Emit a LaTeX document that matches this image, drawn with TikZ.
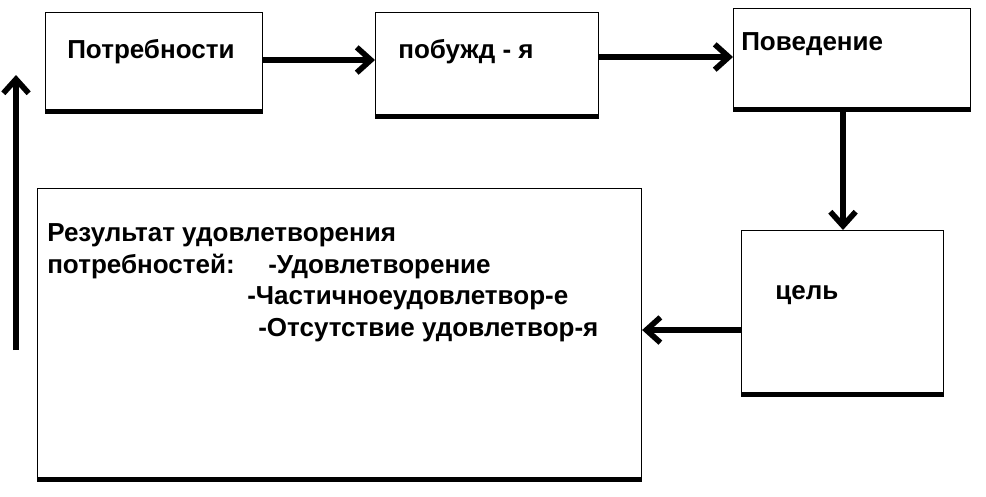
\documentclass[tikz,border=0pt]{standalone}
\usepackage{fontspec}
\setmainfont{Liberation Sans}
\usetikzlibrary{arrows.meta,positioning}
\tikzset{
  blk/.style={draw,line width=0.8pt,anchor=north west,inner sep=0pt},
  lbl/.style={font=\bfseries\fontsize{18.5}{22}\selectfont,anchor=west,inner sep=0pt},
  arr/.style={-{Straight Barb[length=10pt,width=18pt]},line width=4pt}
}
\begin{document}
\begin{tikzpicture}[x=0.025cm,y=-0.025cm]
\useasboundingbox (0,0) rectangle (986,496);
% boxes
\node[blk,minimum width=217*0.025cm,minimum height=98*0.025cm] (need) at (45,12) {};
\node[blk,minimum width=223*0.025cm,minimum height=103*0.025cm] (mot) at (375,12) {};
\node[blk,minimum width=237*0.025cm,minimum height=100*0.025cm] (beh) at (733,8) {};
\node[blk,minimum width=202*0.025cm,minimum height=163*0.025cm] (goal) at (741,230) {};
\node[blk,minimum width=604*0.025cm,minimum height=290*0.025cm] (res) at (37,188) {};
% thick bottoms
\foreach \b in {need,mot,beh,goal,res}
  \draw[line width=3.5pt] (\b.south west) -- (\b.south east);
% texts
\node[lbl] (t1) at (67,52) {Потребности};
\node[lbl] (t2) at (398,52) {побужд - я};
\node[lbl] (t3) at (741,44) {Поведение};
\node[lbl] (t4) at (775,295) {цель};
\node[lbl] (r1) at (47,235) {Результат удовлетворения};
\node[lbl] (r2) at (47,267) {потребностей:};
\node[lbl] (r2b) at (268,267) {-Удовлетворение};
\node[lbl] (r3) at (247,298) {-Частичноеудовлетвор-е};
\node[lbl] (r4) at (258,330) {-Отсутствие удовлетвор-я};
% arrows
\coordinate (l0) at (16,350);
\coordinate (l1) at (16,75);
\path[arr]
(need.east |- 0,60) edge (mot.west |- 0,60)
(mot.east |- 0,57) edge (beh.west |- 0,57)
(beh.south -| 843,0) edge (goal.north -| 843,0)
(goal.west |- 0,330) edge (res.east |- 0,330)
(l0) edge (l1);
\end{tikzpicture}
\end{document}
